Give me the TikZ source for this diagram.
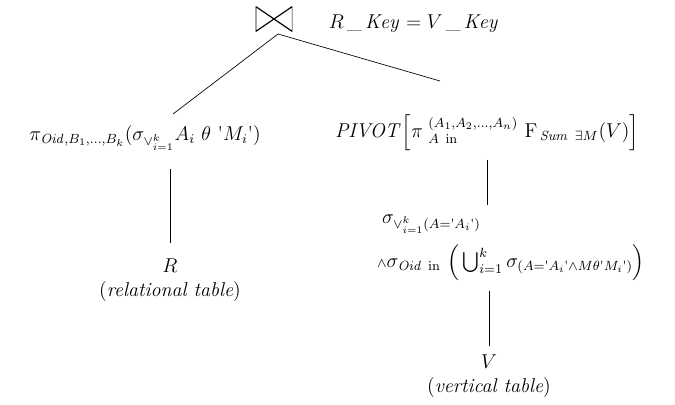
\documentclass[tikz,border=0pt]{standalone}
\usepackage{amsmath}
\usepackage{amssymb}
\usepackage{tikz}
\usepackage{xcolor}

\newcommand{\qt}{\text{\textquotesingle}}

\begin{document}
\begin{tikzpicture}[x=0.6pt,y=-0.6pt,font=\fontsize{12}{14.5}\selectfont,
  op/.style={inner xsep=0pt,inner ysep=5pt},
  bowtie/.style={inner sep=0pt,minimum width=22pt,minimum height=15pt,
    path picture={\draw[line width=0.7pt] (path picture bounding box.north west) -- (path picture bounding box.south east)
      -- (path picture bounding box.north east) -- (path picture bounding box.south west) -- cycle;}}]
  \useasboundingbox (0,0) rectangle (675,405);
  \node[bowtie] (join) at (274,19) {};
  \node (cond) at (414,24) {$R\,\_\,\mathit{Key} = V\,\_\,\mathit{Key}$};
  \coordinate (apex) at (278,34);
  \coordinate (lend) at (173,114);
  \coordinate (rend) at (440,81);
  \node[op] (proj) at (145,138) {$\pi_{\mathit{Oid},B_1,\ldots,B_k}(\sigma_{\vee_{i=1}^{k}}A_i\ \theta\ \qt M_i\qt)$};
  \node[op,align=center] (rel) at (170,280) {$R$\\(\textit{relational table})};
  \node[op] (pivot) at (487,133) {$\mathit{PIVOT}\Big[\pi\;{}^{(A_1,A_2,\ldots,A_n)}_{A\ \mathrm{in}}\ \mathrm{F}_{\,\mathit{Sum}\ \exists M}(V)\Big]$};
  \node[op,align=left,inner ysep=6pt] (sel) at (511,248) {\hspace*{3pt}$\sigma_{\vee_{i=1}^{k}(A=\qt A_i\qt)}$\\[6pt]
    ${\scriptstyle\wedge}\sigma_{\mathit{Oid}\ \mathrm{in}}\ \Big(\bigcup_{i=1}^{k}\sigma_{(A=\qt A_i\qt\wedge M\theta\qt M_i\qt)}\Big)$};
  \node[op,align=center] (vert) at (489,376) {$V$\\(\textit{vertical table})};
  \draw (apex) -- (lend);
  \draw (apex) -- (rend);
  \draw[shorten <=6pt,shorten >=4pt] (proj.south -| rel.north) -- (rel.north);
  \draw (pivot.south) -- (pivot.south |- sel.north);
  \draw (vert.north |- sel.south) -- (vert.north);
\end{tikzpicture}
\end{document}
